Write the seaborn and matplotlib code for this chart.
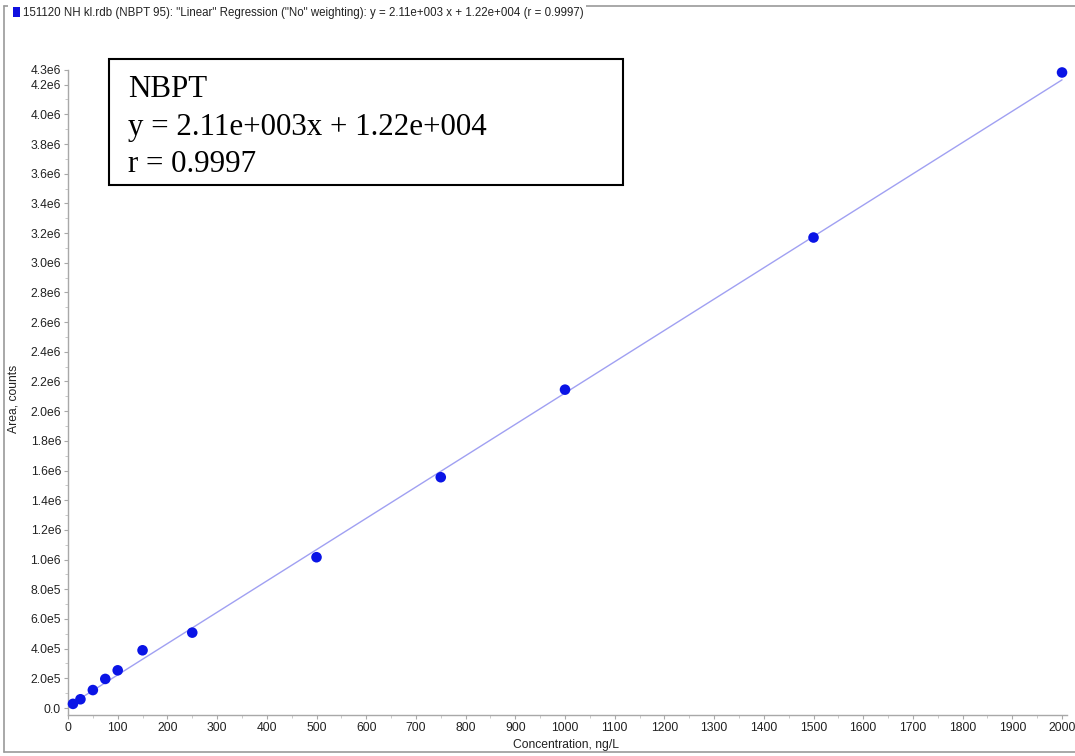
import numpy as np
import pandas as pd
import matplotlib
matplotlib.use("Agg")
import matplotlib.pyplot as plt
from matplotlib.patches import Rectangle
from matplotlib.lines import Line2D
import seaborn as sns

# ---- data ----
concentration = [10, 25, 50, 75, 100, 150, 250, 500, 750, 1000, 1500, 2000]
area = [2.8e4, 5.9e4, 1.21e5, 1.96e5, 2.54e5, 3.89e5, 5.08e5, 1.016e6,
        1.555e6, 2.145e6, 3.170e6, 4.282e6]
slope = 2.11e3
intercept = 1.22e4

x_ticks = list(range(0, 2001, 100))
x_tick_labels = [str(v) for v in x_ticks]
y_ticks = [0.0, 2e5, 4e5, 6e5, 8e5, 1.0e6, 1.2e6, 1.4e6, 1.6e6, 1.8e6, 2.0e6,
           2.2e6, 2.4e6, 2.6e6, 2.8e6, 3.0e6, 3.2e6, 3.4e6, 3.6e6, 3.8e6,
           4.0e6, 4.2e6, 4.3e6]
y_tick_labels = ["0.0", "2.0e5", "4.0e5", "6.0e5", "8.0e5", "1.0e6", "1.2e6",
                 "1.4e6", "1.6e6", "1.8e6", "2.0e6", "2.2e6", "2.4e6", "2.6e6",
                 "2.8e6", "3.0e6", "3.2e6", "3.4e6", "3.6e6", "3.8e6", "4.0e6",
                 "4.2e6", "4.3e6"]

title_text = ('151120 NH kl.rdb (NBPT 95): "Linear" Regression ("No" weighting): '
              'y = 2.11e+003 x + 1.22e+004 (r = 0.9997)')
box_lines = ["NBPT", "y = 2.11e+003x + 1.22e+004", "r = 0.9997"]

# ---- figure ----
sns.set_theme(style="white")
plt.rcParams['font.family'] = ['Liberation Sans', 'DejaVu Sans']

W, H = 1075, 756
fig = plt.figure(figsize=(W / 100, H / 100), dpi=100)
fig.patch.set_facecolor("white")

def fx(px):
    return px / W

def fy(py):
    return 1 - py / H

ax_left, ax_right, ax_top, ax_bottom = 68, 1067, 69.8, 715.3
ax = fig.add_axes([fx(ax_left), fy(ax_bottom), fx(ax_right - ax_left),
                   (ax_bottom - ax_top) / H])
ax.set_facecolor("white")

xlim = (0, 2010)
ylim = (-4.9e4, 4.3e6)

# regression line
line_x = np.array([0, 2000])
line_df = pd.DataFrame({"x": line_x, "y": slope * line_x + intercept})
sns.lineplot(data=line_df, x="x", y="y", ax=ax, color="#a0a0f2", linewidth=1.0,
             zorder=2)

df = pd.DataFrame({"conc": concentration, "area": area})
sns.scatterplot(data=df, x="conc", y="area", ax=ax, color="#0a14e6", s=58,
                edgecolor="none", zorder=3, clip_on=False)

ax.set_xlim(*xlim)
ax.set_ylim(*ylim)

ax.set_xticks(x_ticks)
ax.set_xticklabels(x_tick_labels)
ax.set_xticks(np.arange(50, 2001, 100), minor=True)
ax.set_yticks(y_ticks)
ax.set_yticklabels(y_tick_labels)
ax.set_yticks(np.arange(1e5, 4.2e6, 2e5), minor=True)

for s in ["top", "right"]:
    ax.spines[s].set_visible(False)
for s in ["left", "bottom"]:
    ax.spines[s].set_color("#a8a8a8")
    ax.spines[s].set_linewidth(1.0)

ax.tick_params(axis="both", which="major", direction="out", length=3,
               width=0.8, color="#a8a8a8", labelsize=8.7, labelcolor="#222222",
               pad=2, left=True, bottom=True)
ax.tick_params(axis="both", which="minor", direction="out", length=2,
               width=0.6, color="#c0c0c0", left=True, bottom=True)

ax.set_xlabel("Concentration, ng/L", fontsize=8.7, color="#222222", labelpad=0)
ax.set_ylabel("Area, counts", fontsize=8.7, color="#222222")
ax.xaxis.set_label_coords(0.498, -(745 - ax_bottom) / (ax_bottom - ax_top))
ax.xaxis.label.set_verticalalignment("center")
ax.yaxis.set_label_coords(-(ax_left - 13) / (ax_right - ax_left), 0.49)
ax.yaxis.label.set_verticalalignment("center")
ax.grid(False)

# outer gray frame
frame_col = "#9a9a9a"
fig.add_artist(Line2D([fx(3.5), fx(3.5)], [fy(6), fy(751.5)], color=frame_col,
                      linewidth=1.2))
fig.add_artist(Line2D([fx(3.5), fx(1075)], [fy(751.5), fy(751.5)],
                      color=frame_col, linewidth=1.2))
fig.add_artist(Line2D([fx(3.5), fx(1075)], [fy(6), fy(6)], color=frame_col,
                      linewidth=1.2))

# title with blue square
fig.text(fx(10), fy(13), " " * 4 + title_text, fontsize=8.3, color="#222222",
         va="center", ha="left",
         bbox=dict(facecolor="white", edgecolor="none", pad=1.5))
fig.add_artist(Rectangle((fx(13), fy(17)), fx(7), 10 / H, facecolor="#1010e0",
                         edgecolor="none", zorder=10))

# annotation box
fig.add_artist(Rectangle((fx(108.5), fy(185)), fx(623 - 108.5), (185 - 58.5) / H,
                         facecolor="white", edgecolor="black", linewidth=1.5,
                         zorder=5))
baselines = [97, 134.5, 172]
for txt, b in zip(box_lines, baselines):
    fig.text(fx(128), fy(b), txt, fontsize=22.3, family="Liberation Serif",
             color="black", va="baseline", ha="left", zorder=6)

fig.savefig("out.png", dpi=100, facecolor="white")
